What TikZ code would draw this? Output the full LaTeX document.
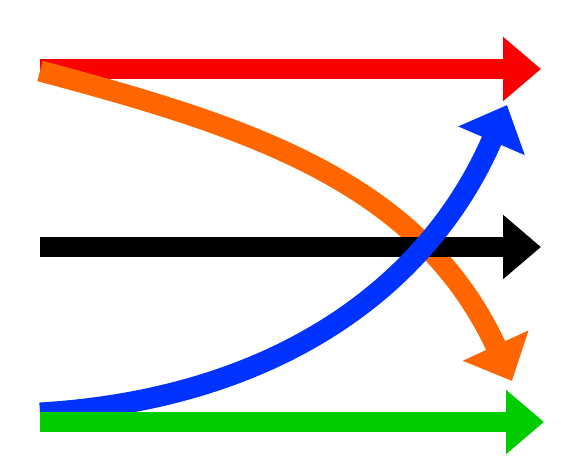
\documentclass[tikz,border=0pt]{standalone}
\usepackage{xcolor}
\usepackage{tikz}
\usetikzlibrary{arrows.meta}
\definecolor{flowred}{RGB}{250,0,0}
\definecolor{floworange}{RGB}{255,102,0}
\definecolor{flowblue}{RGB}{0,51,255}
\definecolor{flowgreen}{RGB}{0,204,0}
\tikzset{flow/.style={line width=0.4cm,-{Triangle[length=0.76cm,width=1.24cm]}},
  bentflow/.style={line width=0.42cm,-{Triangle[length=0.78cm,width=1.4cm]}}}

\begin{document}
\begin{tikzpicture}[x=0.02cm,y=-0.02cm]
\useasboundingbox (0,0) rectangle (561,473);
% ends of the arrows
\coordinate (redL) at (40,69);
\coordinate (redR) at (541,69);
\coordinate (blackL) at (40,247);
\coordinate (blackR) at (541,247);
\coordinate (greenL) at (40,422);
\coordinate (greenR) at (544,422);
\coordinate (orangeL) at (40,71);
\coordinate (orangeR) at (512,381);
\coordinate (blueL) at (40,413);
\coordinate (blueR) at (507,105);
\draw[flow,flowred] (redL) -- (redR);
\draw[bentflow,floworange] (orangeL) .. controls (250,127) and (420,182) .. (orangeR);
\draw[flow,black] (blackL) -- (blackR);
\draw[bentflow,flowblue] (blueL) .. controls (275,399) and (428,288) .. (blueR);
\draw[flow,flowgreen] (greenL) -- (greenR);
\end{tikzpicture}
\end{document}
